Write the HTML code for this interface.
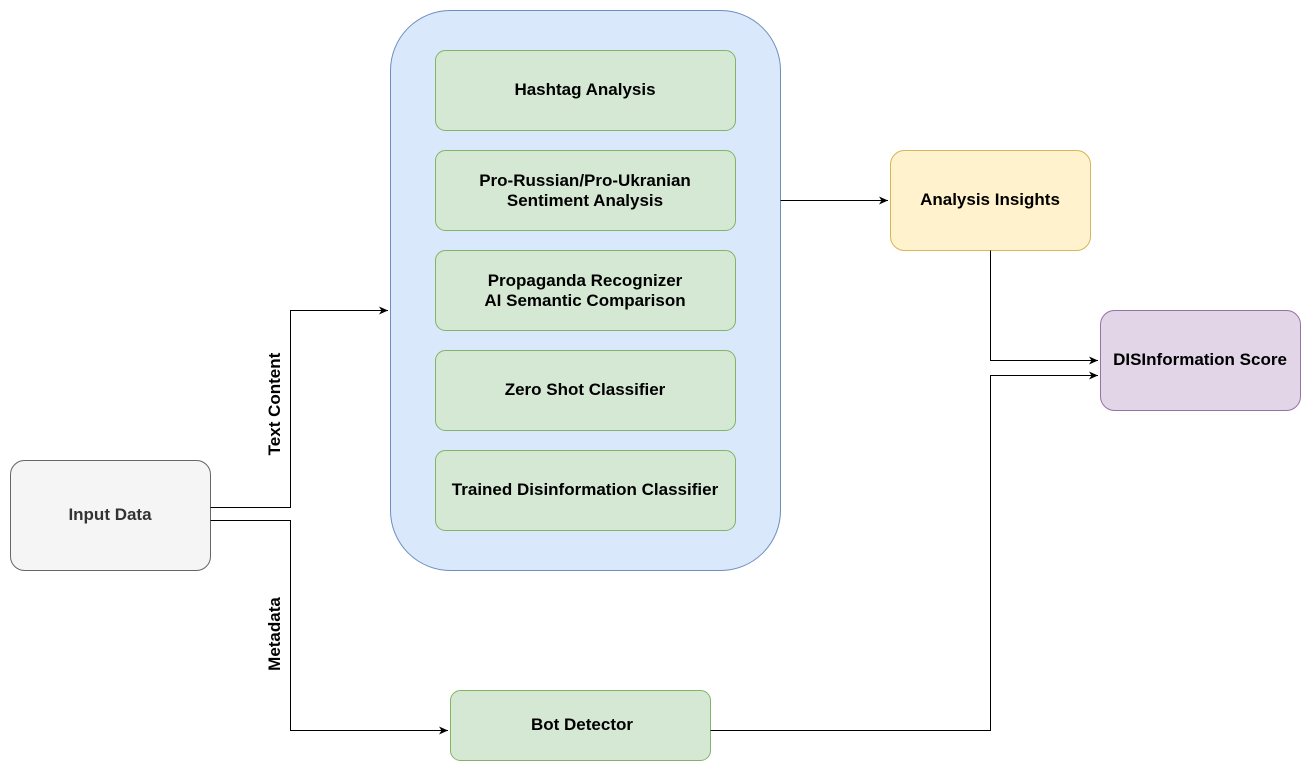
<!DOCTYPE html>
<html><head><meta charset="utf-8"><style>
html,body{margin:0;padding:0;background:#fff;}
svg{display:block;font-family:"Liberation Sans",Arial,sans-serif;font-weight:bold;font-size:17px;}
</style></head><body>
<svg width="1311" height="771" viewBox="0 0 1311 771" xmlns="http://www.w3.org/2000/svg">
<defs><marker id="a" markerWidth="12" markerHeight="12" refX="10" refY="6" orient="auto" markerUnits="userSpaceOnUse"><path d="M1,2 L10,6 L1,10 L3.5,6 Z" fill="#000"/></marker></defs>
<rect x="390.5" y="10.5" width="390" height="560" rx="60" fill="#dae8fc" stroke="#6c8ebf"/>
<g fill="#d5e8d4" stroke="#82b366">
<rect x="435.5" y="50.5" width="300" height="80" rx="10"/>
<rect x="435.5" y="150.5" width="300" height="80" rx="10"/>
<rect x="435.5" y="250.5" width="300" height="80" rx="10"/>
<rect x="435.5" y="350.5" width="300" height="80" rx="10"/>
<rect x="435.5" y="450.5" width="300" height="80" rx="10"/>
<rect x="450.5" y="690.5" width="260" height="70" rx="10"/>
</g>
<rect x="10.5" y="460.5" width="200" height="110" rx="14" fill="#f5f5f5" stroke="#666"/>
<rect x="890.5" y="150.5" width="200" height="100" rx="14" fill="#fff2cc" stroke="#d6b656"/>
<rect x="1100.5" y="310.5" width="200" height="100" rx="14" fill="#e1d5e7" stroke="#9673a6"/>
<g fill="none" stroke="#000" stroke-width="1">
<path d="M210.5 507.5 H290.5 V310.5 H388" marker-end="url(#a)"/>
<path d="M210.5 520.5 H290.5 V730.5 H448" marker-end="url(#a)"/>
<path d="M780.5 200.5 H888" marker-end="url(#a)"/>
<path d="M990.5 250.5 V360.5 H1098" marker-end="url(#a)"/>
<path d="M710.5 730.5 H990.5 V375.5 H1098" marker-end="url(#a)"/>
</g>
<g text-anchor="middle" fill="#000">
<text x="585" y="95">Hashtag Analysis</text>
<text x="585" y="186">Pro-Russian/Pro-Ukranian</text>
<text x="585" y="206">Sentiment Analysis</text>
<text x="585" y="286">Propaganda Recognizer</text>
<text x="585" y="306">AI Semantic Comparison</text>
<text x="585" y="395">Zero Shot Classifier</text>
<text x="585" y="495">Trained Disinformation Classifier</text>
<text x="582" y="730">Bot Detector</text>
<text x="110" y="520" fill="#333">Input Data</text>
<text x="990" y="205">Analysis Insights</text>
<text x="1200" y="365">DISInformation Score</text>
<text transform="translate(280,404) rotate(-90)">Text Content</text>
<text transform="translate(280,634) rotate(-90)">Metadata</text>
</g>
</svg>
</body></html>
